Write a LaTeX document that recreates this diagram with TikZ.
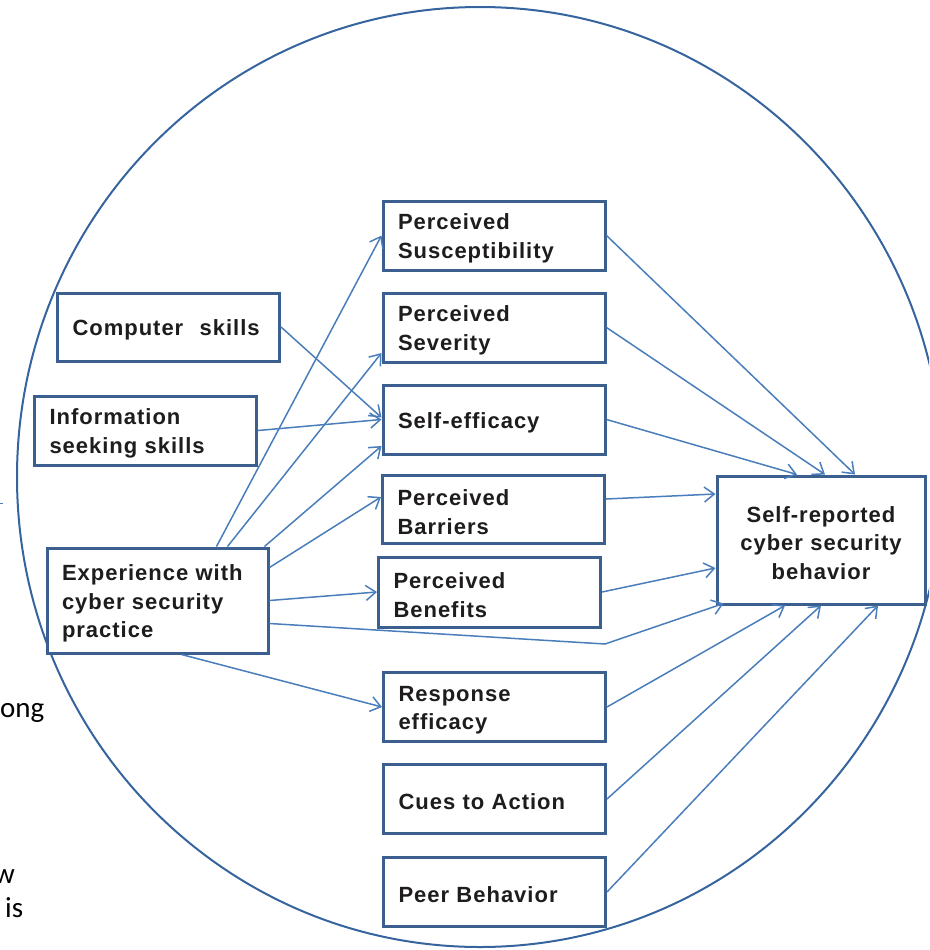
\documentclass[tikz,border=0pt]{standalone}
\usepackage{fontspec}
\setmainfont{Liberation Sans}
\newfontfamily\calib{Carlito}
\usetikzlibrary{arrows.meta}
\definecolor{boxblue}{HTML}{3B5F8F}
\definecolor{arrblue}{HTML}{4A7EBB}
\definecolor{circblue}{HTML}{36649E}
\definecolor{txtgray}{HTML}{1E1C1D}
\begin{document}
\begin{tikzpicture}[x=1pt,y=-1pt,
  box/.style={draw=boxblue, line width=3pt, fill=white, rectangle,
    minimum height=69pt, text width=192pt, inner xsep=15pt, inner ysep=0pt,
    align=left, text=txtgray,
    font=\fontsize{22}{28.5}\selectfont\bfseries\addfontfeature{LetterSpace=4.5},
    execute at begin node={\rule{0pt}{22pt}}},
  arr/.style={draw=arrblue, line width=1.5pt,
    -{Straight Barb[length=10pt,width=15pt,line width=1.5pt]}},
  frag/.style={font=\calib\fontsize{29}{34}\selectfont, inner sep=0pt, text=black}
]
\useasboundingbox (0,0) rectangle (929,950);
\clip (0,0) rectangle (929,950);
\draw[circblue, line width=2pt] (480,477) ellipse [x radius=463, y radius=470];
\draw[arrblue, line width=1pt] (0,503) -- (3,503);

\node[frag, anchor=base west] (f1) at (0,717) {ong};
\node[frag, anchor=base east] (f2) at (15,883) {w};
\node[frag, anchor=base west] (f3) at (5,917) {is};

\node[box] (sus) at (494,235.5) {Perceived\\Susceptibility};
\node[box] (sev) at (494,327.5) {Perceived\\Severity};
\node[box] (self) at (494,419.5) {Self-efficacy};
\node[box, minimum height=68pt] (bar) at (493.5,509) {Perceived\\Barriers};
\node[box, minimum height=70pt] (ben) at (489.5,592) {Perceived\\Benefits};
\node[box] (resp) at (494.5,707) {Response\\efficacy};
\node[box] (cues) at (494.5,799) {Cues to Action};
\node[box] (peer) at (494.5,892) {Peer Behavior};
\node[box, minimum height=68pt] (comp) at (168.5,327) {Computer\hspace{9pt} skills};
\node[box] (info) at (145.5,430.5) {Information\\seeking skills};
\node[box, minimum height=105pt, text width=191pt] (exp) at (157.5,600.5) {Experience with\\cyber security\\practice};
\node[box, minimum height=128pt, text width=178pt, align=center] (beh) at (821,540) {Self-reported\\cyber security\\behavior};

\draw[arr] (comp.east) -- ([yshift=2pt]self.west);
\draw[arr] (info.east) -- (self.west);
\draw[arr] ([xshift=171pt]exp.north west) -- (sus.west);
\draw[arr] ([xshift=182pt]exp.north west) -- ([yshift=-25.5pt]sev.west);
\draw[arr] ([xshift=-5pt]exp.north east) -- ([yshift=-26.5pt]self.west);
\draw[arr] ([yshift=33pt]exp.east) -- ([yshift=12pt]bar.west);
\draw[arr] (exp.east) -- (ben.west);
\coordinate (kink) at (605,644);
\draw[arr] ([yshift=-23pt]exp.east) -- (kink) -- ([xshift=8pt,yshift=2pt]beh.south west);
\draw[arr] ([xshift=136pt]exp.south west) -- (resp.west);

\draw[arr] (sus.east) -- ([xshift=34pt]beh.north);
\draw[arr] (sev.east) -- ([xshift=4pt]beh.north);
\draw[arr] (self.east) -- ([xshift=-24pt]beh.north);
\draw[arr] ([yshift=10pt]bar.east) -- ([yshift=46pt]beh.west);
\draw[arr] (ben.east) -- ([yshift=-28pt]beh.west);
\draw[arr] (resp.east) -- ([xshift=-36pt]beh.south);
\draw[arr] (cues.east) -- (beh.south);
\draw[arr] (peer.east) -- ([xshift=57pt]beh.south);
\end{tikzpicture}
\end{document}
